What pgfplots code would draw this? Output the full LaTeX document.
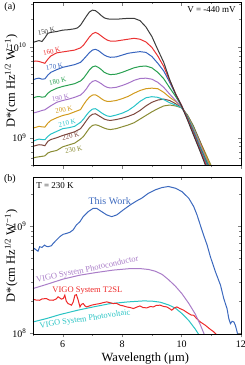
\documentclass[border=0pt]{standalone}
\usepackage{fontspec}
\setmainfont{Liberation Serif}
\usepackage{pgfplots}
\pgfplotsset{compat=1.18}
\definecolor{c150}{RGB}{60,60,60}
\definecolor{c160}{RGB}{235,50,50}
\definecolor{c170}{RGB}{55,100,190}
\definecolor{c180}{RGB}{40,160,80}
\definecolor{c190}{RGB}{165,115,200}
\definecolor{c200}{RGB}{210,155,30}
\definecolor{c210}{RGB}{40,195,200}
\definecolor{c220}{RGB}{125,72,62}
\definecolor{c230}{RGB}{138,140,52}
\definecolor{twblue}{RGB}{60,105,190}
\definecolor{vpc}{RGB}{170,125,200}
\definecolor{vt2}{RGB}{238,40,40}
\definecolor{vpv}{RGB}{40,195,195}
\tikzset{tlabX/.style={font=\fontsize{7}{7}\selectfont, rotate=12, inner sep=0pt}}
\begin{document}
\begin{tikzpicture}
\path[use as bounding box] (0pt,0pt) rectangle (245pt,-365pt);
% ---------------- panel (a) ----------------
\begin{semilogyaxis}[scale only axis, width=208pt, height=163pt, at={(33pt,-165.7pt)}, anchor=south west,
  xmin=5, xmax=12, ymin=4.92e8, ymax=3.07e10,
  axis line style={line width=0.6pt}, major tick length=3pt, minor tick length=1.7pt,
  xtick={6,8,10,12}, minor xtick={5,7,9,11},
  ytick={1e9,1e10}, minor ytick={5e8,6e8,7e8,8e8,9e8,2e9,3e9,4e9,5e9,6e9,7e9,8e9,9e9,2e10,3e10},
  tick align=outside, xtick pos=left, ytick pos=left,
  tick label style={font=\fontsize{10}{10}\selectfont},
  xticklabels={},
  yticklabels={10\textsuperscript{9},10\textsuperscript{10}},
  ylabel={D*(cm Hz\textsuperscript{1/2} W\textsuperscript{−1})},
  ylabel style={font=\fontsize{12.5}{13}\selectfont, anchor=center, at={(axis description cs:-0.105,0.52)}}]
\addplot[line width=1pt, c230] coordinates {(5.0,5.984e8)(5.1,6.095e8)(5.2,6.166e8)(5.3,6.237e8)(5.4,6.310e8)(5.5,6.792e8)(5.6,6.998e8)(5.8,7.244e8)(6.0,7.943e8)(6.2,8.318e8)(6.4,8.710e8)(6.6,9.661e8)(6.7,1.035e9)(6.8,1.148e9)(6.9,1.276e9)(7.0,1.365e9)(7.1,1.390e9)(7.2,1.365e9)(7.3,1.318e9)(7.4,1.276e9)(7.5,1.245e9)(7.6,1.230e9)(7.8,1.259e9)(8.0,1.318e9)(8.2,1.380e9)(8.4,1.462e9)(8.6,1.603e9)(8.8,1.758e9)(9.0,1.928e9)(9.2,2.089e9)(9.4,2.239e9)(9.6,2.291e9)(9.8,2.239e9)(10.0,2.138e9)(10.2,1.778e9)(10.4,1.349e9)(10.6,9.441e8)(11.0,4.898e8)(11.1,4.074e8)};
\addplot[line width=1pt, c220] coordinates {(5.0,8.035e8)(5.1,8.222e8)(5.2,8.375e8)(5.3,8.318e8)(5.4,8.166e8)(5.5,9.120e8)(5.6,9.550e8)(5.8,1.000e9)(6.0,1.059e9)(6.2,1.109e9)(6.4,1.161e9)(6.6,1.259e9)(6.7,1.390e9)(6.8,1.549e9)(6.9,1.714e9)(7.0,1.811e9)(7.1,1.837e9)(7.2,1.758e9)(7.3,1.679e9)(7.4,1.603e9)(7.5,1.567e9)(7.6,1.549e9)(7.8,1.585e9)(8.0,1.641e9)(8.2,1.718e9)(8.4,1.820e9)(8.6,1.995e9)(8.8,2.239e9)(9.0,2.455e9)(9.2,2.600e9)(9.4,2.661e9)(9.6,2.570e9)(9.8,2.371e9)(10.0,2.138e9)(10.2,1.758e9)(10.4,1.318e9)(10.6,9.441e8)(10.95,4.898e8)(11.05,4.074e8)};
\addplot[line width=1pt, c210] coordinates {(5.0,9.120e8)(5.1,9.441e8)(5.2,9.661e8)(5.3,9.550e8)(5.4,9.506e8)(5.5,1.035e9)(5.6,1.096e9)(5.8,1.175e9)(6.0,1.259e9)(6.2,1.288e9)(6.4,1.334e9)(6.6,1.479e9)(6.7,1.603e9)(6.8,1.778e9)(6.9,1.945e9)(7.0,2.065e9)(7.1,2.089e9)(7.2,1.995e9)(7.3,1.884e9)(7.4,1.799e9)(7.5,1.738e9)(7.6,1.714e9)(7.8,1.778e9)(8.0,1.862e9)(8.2,1.995e9)(8.4,2.213e9)(8.6,2.512e9)(8.8,2.754e9)(9.0,2.831e9)(9.2,2.786e9)(9.4,2.630e9)(9.6,2.427e9)(9.8,2.291e9)(10.0,2.138e9)(10.2,1.738e9)(10.4,1.288e9)(10.6,9.120e8)(10.88,4.898e8)(10.98,4.074e8)};
\addplot[line width=1pt, c200] coordinates {(5.0,1.276e9)(5.1,1.303e9)(5.2,1.334e9)(5.3,1.318e9)(5.4,1.309e9)(5.5,1.449e9)(5.6,1.549e9)(5.8,1.660e9)(6.0,1.758e9)(6.2,1.820e9)(6.4,1.928e9)(6.6,2.042e9)(6.7,2.307e9)(6.8,2.570e9)(6.9,2.799e9)(7.0,2.951e9)(7.1,2.972e9)(7.2,2.851e9)(7.3,2.692e9)(7.4,2.570e9)(7.5,2.512e9)(7.6,2.512e9)(7.8,2.570e9)(8.0,2.692e9)(8.2,2.851e9)(8.4,3.090e9)(8.6,3.311e9)(8.8,3.467e9)(9.0,3.516e9)(9.2,3.467e9)(9.4,3.162e9)(9.6,2.786e9)(9.8,2.512e9)(10.0,2.188e9)(10.2,1.718e9)(10.4,1.259e9)(10.6,9.016e8)(10.97,4.898e8)(11.07,4.074e8)};
\addplot[line width=1pt, c190] coordinates {(5.0,1.866e9)(5.1,1.905e9)(5.2,1.945e9)(5.3,1.995e9)(5.4,2.032e9)(5.5,2.138e9)(5.6,2.249e9)(5.8,2.455e9)(6.0,2.570e9)(6.2,2.661e9)(6.4,2.786e9)(6.6,2.951e9)(6.7,3.162e9)(6.8,3.467e9)(6.9,3.890e9)(7.0,4.169e9)(7.1,4.266e9)(7.2,4.121e9)(7.3,3.936e9)(7.4,3.715e9)(7.5,3.589e9)(7.6,3.532e9)(7.8,3.589e9)(8.0,3.758e9)(8.2,3.981e9)(8.4,4.285e9)(8.6,4.487e9)(8.8,4.529e9)(9.0,4.416e9)(9.2,4.074e9)(9.4,3.589e9)(9.6,3.020e9)(9.8,2.570e9)(10.0,2.188e9)(10.2,1.690e9)(10.4,1.230e9)(10.6,8.710e8)(10.93,4.898e8)(11.03,4.074e8)};
\addplot[line width=1pt, c180] coordinates {(5.0,2.729e9)(5.1,2.818e9)(5.2,2.844e9)(5.3,2.799e9)(5.4,2.818e9)(5.5,3.090e9)(5.6,3.273e9)(5.8,3.508e9)(6.0,3.673e9)(6.2,3.802e9)(6.4,3.936e9)(6.6,4.217e9)(6.7,4.529e9)(6.8,5.012e9)(6.9,5.585e9)(7.0,6.026e9)(7.1,6.166e9)(7.2,5.957e9)(7.3,5.623e9)(7.4,5.248e9)(7.5,5.070e9)(7.6,4.955e9)(7.8,5.012e9)(8.0,5.248e9)(8.2,5.559e9)(8.4,5.888e9)(8.6,6.095e9)(8.8,6.166e9)(9.0,5.888e9)(9.2,5.248e9)(9.4,4.467e9)(9.6,3.548e9)(9.8,2.851e9)(10.0,2.239e9)(10.2,1.679e9)(10.4,1.189e9)(10.6,8.222e8)(10.91,4.898e8)(11.01,4.074e8)};
\addplot[line width=1pt, c170] coordinates {(5.0,4.335e9)(5.1,4.467e9)(5.2,4.529e9)(5.3,4.416e9)(5.4,4.446e9)(5.5,4.898e9)(5.6,5.248e9)(5.8,5.623e9)(6.0,5.957e9)(6.2,6.166e9)(6.4,6.383e9)(6.6,6.761e9)(6.7,7.311e9)(6.8,7.943e9)(6.9,8.670e9)(7.0,9.226e9)(7.1,9.419e9)(7.2,9.120e9)(7.3,8.610e9)(7.4,8.128e9)(7.5,7.852e9)(7.6,7.691e9)(7.8,7.762e9)(8.0,8.128e9)(8.2,8.511e9)(8.4,8.710e9)(8.6,8.872e9)(8.8,8.710e9)(9.0,7.852e9)(9.2,6.607e9)(9.4,5.433e9)(9.6,4.074e9)(9.8,3.020e9)(10.0,2.265e9)(10.2,1.641e9)(10.4,1.148e9)(10.6,7.852e8)(10.87,4.898e8)(10.97,4.074e8)};
\addplot[line width=1pt, c160] coordinates {(5.0,6.918e9)(5.1,6.998e9)(5.2,6.918e9)(5.3,6.761e9)(5.4,6.607e9)(5.5,7.328e9)(5.6,7.943e9)(5.8,8.610e9)(6.0,8.810e9)(6.2,9.016e9)(6.4,9.226e9)(6.6,9.772e9)(6.7,1.047e10)(6.8,1.161e10)(6.9,1.288e10)(7.0,1.396e10)(7.1,1.445e10)(7.2,1.396e10)(7.3,1.318e10)(7.4,1.245e10)(7.5,1.189e10)(7.6,1.161e10)(7.8,1.161e10)(8.0,1.189e10)(8.2,1.216e10)(8.4,1.245e10)(8.6,1.216e10)(8.8,1.135e10)(9.0,9.886e9)(9.2,7.943e9)(9.4,6.095e9)(9.6,4.266e9)(9.8,3.055e9)(10.0,2.265e9)(10.2,1.603e9)(10.4,1.109e9)(10.6,7.586e8)(10.84,4.898e8)(10.94,4.074e8)};
\addplot[line width=1pt, c150] coordinates {(5.0,1.122e10)(5.1,1.148e10)(5.2,1.175e10)(5.3,1.148e10)(5.4,1.259e10)(5.5,1.413e10)(5.6,1.445e10)(5.8,1.479e10)(6.0,1.531e10)(6.2,1.549e10)(6.4,1.585e10)(6.5,1.622e10)(6.6,1.738e10)(6.7,1.950e10)(6.8,2.188e10)(6.9,2.427e10)(7.0,2.541e10)(7.1,2.512e10)(7.2,2.371e10)(7.3,2.213e10)(7.4,2.089e10)(7.5,2.042e10)(7.6,2.018e10)(7.8,2.018e10)(8.0,2.042e10)(8.2,2.065e10)(8.4,2.065e10)(8.6,1.950e10)(8.8,1.660e10)(9.0,1.303e10)(9.2,9.333e9)(9.4,6.761e9)(9.6,4.365e9)(9.8,3.020e9)(10.0,2.239e9)(10.2,1.567e9)(10.4,1.072e9)(10.6,7.413e8)(10.8,5.012e8)(10.9,4.169e8)};
\node[tlabX, text=c150] at (axis cs:5.45,1.48e10) {150 K};
\node[tlabX, text=c160] at (axis cs:5.63,8.91e9) {160 K};
\node[tlabX, text=c170] at (axis cs:5.72,6.08e9) {170 K};
\node[tlabX, text=c180] at (axis cs:5.83,4.17e9) {180 K};
\node[tlabX, text=c190] at (axis cs:5.92,2.75e9) {190 K};
\node[tlabX, text=c200] at (axis cs:6.04,2.04e9) {200 K};
\node[tlabX, text=c210] at (axis cs:6.15,1.45e9) {210 K};
\node[tlabX, text=c220] at (axis cs:6.27,1.035e9) {220 K};
\node[tlabX, text=c230] at (axis cs:6.37,7.41e8) {230 K};
\node[anchor=north east, inner sep=0pt, font=\fontsize{9}{9}\selectfont] at (rel axis cs:0.975,0.975) {V = -440 mV};
\end{semilogyaxis}
\begin{semilogyaxis}[scale only axis, width=208pt, height=163pt, at={(33pt,-165.7pt)}, anchor=south west,
  xmin=5, xmax=12, ymin=4.92e8, ymax=3.07e10,
  axis line style={line width=0.6pt}, major tick length=3pt, minor tick length=1.7pt,
  xtick={6,8,10,12}, minor xtick={5,7,9,11},
  ytick={1e9,1e10}, minor ytick={5e8,6e8,7e8,8e8,9e8,2e9,3e9,4e9,5e9,6e9,7e9,8e9,9e9,2e10,3e10},
  tick align=inside, xtick pos=right, ytick pos=right, xticklabels={}, yticklabels={}]
\end{semilogyaxis}
% ---------------- panel (b) ----------------
\begin{semilogyaxis}[scale only axis, width=208pt, height=157.5pt, at={(33pt,-334.5pt)}, anchor=south west,
  xmin=5, xmax=12, ymin=9.75e7, ymax=2.86e9,
  axis line style={line width=0.6pt}, major tick length=3pt, minor tick length=1.7pt,
  xtick={6,8,10,12}, minor xtick={5,7,9,11},
  ytick={1e8,1e9}, minor ytick={2e8,3e8,4e8,5e8,6e8,7e8,8e8,9e8,2e9},
  tick align=outside, xtick pos=left, ytick pos=left,
  tick label style={font=\fontsize{10}{10}\selectfont},
  xticklabels={6,8,10,12},
  yticklabels={10\textsuperscript{8},10\textsuperscript{9}},
  ylabel={D*(cm Hz\textsuperscript{1/2} W\textsuperscript{−1})},
  ylabel style={font=\fontsize{12.5}{13}\selectfont, anchor=center, at={(axis description cs:-0.105,0.5)}},
  xlabel={Wavelength (μm)},
  xlabel style={font=\fontsize{12.5}{13}\selectfont, anchor=center, at={(axis description cs:0.54,-0.15)}}]
\addplot[line width=1pt, vpv] coordinates {(5.0,1.276e8)(5.45,1.371e8)(5.9,1.493e8)(6.5,1.641e8)(7.03,1.762e8)(7.6,1.892e8)(8.2,1.963e8)(8.72,2.004e8)(9.0,1.995e8)(9.28,1.950e8)(9.56,1.841e8)(9.79,1.718e8)(10.01,1.531e8)(10.24,1.318e8)(10.46,1.096e8)(10.6,9.550e7)(10.7,8.511e7)};
\addplot[line width=1pt, vt2] coordinates {(5.0,2.080e8)(5.1,2.042e8)(5.225,2.032e8)(5.3,2.089e8)(5.45,2.109e8)(5.55,2.042e8)(5.68,2.032e8)(5.78,2.089e8)(5.845,2.188e8)(5.9,2.138e8)(5.957,2.080e8)(6.02,2.113e8)(6.07,2.265e8)(6.12,1.995e8)(6.18,1.892e8)(6.24,1.862e8)(6.295,1.828e8)(6.35,1.950e8)(6.41,2.265e8)(6.46,2.291e8)(6.52,2.042e8)(6.58,1.762e8)(6.63,1.862e8)(6.69,1.892e8)(6.75,1.799e8)(6.8,1.762e8)(6.9,1.799e8)(6.97,1.828e8)(7.1,1.862e8)(7.25,1.892e8)(7.35,1.928e8)(7.48,1.963e8)(7.6,1.928e8)(7.7,1.892e8)(7.8,1.905e8)(7.93,1.828e8)(8.05,1.799e8)(8.15,1.762e8)(8.27,1.738e8)(8.38,1.702e8)(8.5,1.758e8)(8.6,1.799e8)(8.7,1.738e8)(8.83,1.726e8)(8.95,1.778e8)(9.05,1.762e8)(9.15,1.820e8)(9.28,1.828e8)(9.4,1.778e8)(9.5,1.762e8)(9.6,1.698e8)(9.67,1.641e8)(9.75,1.718e8)(9.84,1.762e8)(9.95,1.698e8)(10.07,1.641e8)(10.15,1.585e8)(10.24,1.528e8)(10.33,1.479e8)(10.41,1.472e8)(10.5,1.380e8)(10.63,1.276e8)(10.72,1.230e8)(10.80,1.189e8)(10.91,1.122e8)(11.0,1.072e8)(11.08,1.035e8)(11.17,9.772e7)(11.22,8.913e7)};
\addplot[line width=1pt, vpc] coordinates {(5.0,2.612e8)(5.45,2.851e8)(6.01,3.199e8)(6.58,3.483e8)(7.14,3.690e8)(7.7,3.882e8)(8.27,4.009e8)(8.6,4.009e8)(8.885,3.936e8)(9.11,3.793e8)(9.34,3.548e8)(9.56,3.162e8)(9.79,2.754e8)(10.01,2.344e8)(10.24,1.905e8)(10.46,1.514e8)(10.63,1.202e8)(10.75,1.000e8)(10.87,8.318e7)};
\addplot[line width=1pt, twblue] coordinates {(5.0,5.970e8)(5.05,6.166e8)(5.11,5.970e8)(5.17,5.821e8)(5.225,6.412e8)(5.3,6.310e8)(5.39,6.637e8)(5.45,6.457e8)(5.51,6.412e8)(5.62,6.546e8)(5.68,6.887e8)(5.79,7.396e8)(5.9,7.943e8)(6.01,8.356e8)(6.12,8.511e8)(6.24,8.730e8)(6.35,9.183e8)(6.46,1.021e9)(6.58,1.096e9)(6.69,1.222e9)(6.86,1.361e9)(7.03,1.462e9)(7.14,1.462e9)(7.31,1.361e9)(7.48,1.268e9)(7.65,1.222e9)(7.82,1.268e9)(8.04,1.413e9)(8.27,1.570e9)(8.49,1.714e9)(8.66,1.816e9)(8.885,2.018e9)(9.11,2.168e9)(9.34,2.280e9)(9.56,2.333e9)(9.79,2.249e9)(10.01,2.094e9)(10.24,1.816e9)(10.41,1.514e9)(10.52,1.268e9)(10.63,1.021e9)(10.74,8.241e8)(10.86,6.637e8)(10.97,5.164e8)(11.14,3.741e8)(11.31,2.812e8)(11.42,2.109e8)(11.53,1.698e8)(11.59,1.371e8)(11.645,1.230e8)(11.7,1.294e8)(11.76,1.276e8)(11.81,1.189e8)(11.87,1.028e8)(11.93,8.610e7)};
\node[inner sep=0pt, font=\fontsize{10}{10}\selectfont, text=twblue] at (axis cs:7.58,1.71e9) {This Work};
\node[inner sep=0pt, font=\fontsize{8.5}{8.5}\selectfont, text=vpc, rotate=12] at (axis cs:6.83,3.9e8) {VIGO System Photoconductor};
\node[inner sep=0pt, font=\fontsize{8.5}{8.5}\selectfont, text=vt2] at (axis cs:6.83,2.48e8) {VIGO System T2SL};
\node[inner sep=0pt, font=\fontsize{8.3}{8.3}\selectfont, text=vpv, rotate=8.5] at (axis cs:6.75,1.35e8) {VIGO System Photovoltaic};
\node[anchor=north west, inner sep=0pt, font=\fontsize{9}{9}\selectfont] at (rel axis cs:0.015,0.965) {T = 230 K};
\end{semilogyaxis}
\begin{semilogyaxis}[scale only axis, width=208pt, height=157.5pt, at={(33pt,-334.5pt)}, anchor=south west,
  xmin=5, xmax=12, ymin=9.75e7, ymax=2.86e9,
  axis line style={line width=0.6pt}, major tick length=3pt, minor tick length=1.7pt,
  xtick={6,8,10,12}, minor xtick={5,7,9,11},
  ytick={1e8,1e9}, minor ytick={2e8,3e8,4e8,5e8,6e8,7e8,8e8,9e8,2e9},
  tick align=inside, xtick pos=right, ytick pos=right, xticklabels={}, yticklabels={}]
\end{semilogyaxis}
\node[font=\fontsize{10}{10}\selectfont] at (10pt,-7pt) {(a)};
\node[font=\fontsize{10}{10}\selectfont] at (10pt,-179pt) {(b)};
\end{tikzpicture}
\end{document}
